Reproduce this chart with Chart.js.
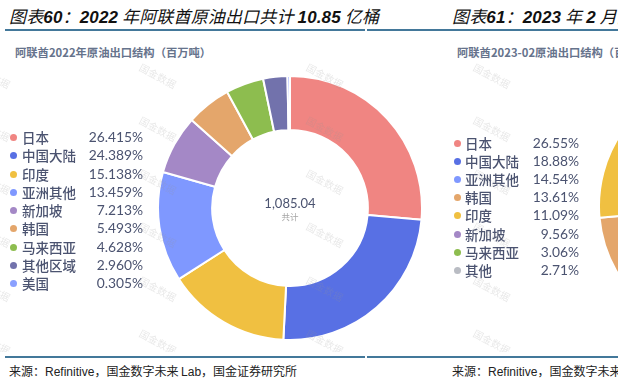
<!DOCTYPE html>
<html><head><meta charset="utf-8">
<script src="https://cdn.jsdelivr.net/npm/chart.js@4"></script>
<style>
html,body{margin:0;padding:0;width:618px;height:386px;overflow:hidden;background:#fff;}
body{position:relative;font-family:"Noto Sans CJK SC",sans-serif;}
.abs{position:absolute;white-space:nowrap;}
.title{font-size:17px;font-style:italic;color:#111;line-height:20px;letter-spacing:0.15px;}
.title b{font-family:"Liberation Sans",Arial,sans-serif;font-weight:bold;}
.sub{font-size:11.3px;color:#66738c;font-weight:600;line-height:14px;}
.src{font-size:12px;color:#222;line-height:16px;}
.src .l{font-family:"Liberation Sans",Arial,sans-serif;}
.rule{position:absolute;height:2px;background:#43789a;}
.row{position:absolute;height:18px;line-height:18px;}
.dot{position:absolute;width:7px;height:7px;border-radius:50%;top:6px;}
.nm{position:absolute;font-size:13.5px;color:#4b5370;font-weight:500;}
.pc{position:absolute;font-family:Lato,sans-serif;font-size:13.8px;color:#4b5370;text-align:right;}
.wm{position:absolute;font-size:10px;color:rgba(150,150,150,0.22);transform:rotate(28deg);white-space:nowrap;pointer-events:none;}
</style></head>
<body>
<script>
// ---- data ----
const categories2022 = ['日本','中国大陆','印度','亚洲其他','新加坡','韩国','马来西亚','其他区域','美国'];
const shares2022 = [26.415,24.389,15.138,13.459,7.213,5.493,4.628,2.960,0.305];
const total2022 = 1085.04;
const categories2023 = ['日本','中国大陆','亚洲其他','韩国','印度','新加坡','马来西亚','其他'];
const shares2023 = [26.55,18.88,14.54,13.61,11.09,9.56,3.06,2.71];
// ---- styles ----
const colorMap = {'日本':'#f08582','中国大陆':'#5870e4','印度':'#f0c041','亚洲其他':'#7f98ff','新加坡':'#a488c6',
 '韩国':'#e4a66b','马来西亚':'#8dbd4f','其他区域':'#7272ac','美国':'#8aa0ff','其他':'#b9bcc3'};
</script>

<div class="abs title" style="left:9px;top:6px;">图表<b>60</b>：<b>2022</b> 年阿联酋原油出口共计 <b>10.85</b> 亿桶</div>
<div class="abs title" style="left:452px;top:6px;">图表<b>61</b>：<b>2023</b> 年 <b>2</b> 月阿联酋原油出口结构</div>
<div class="rule" style="left:5px;top:29px;width:360px;"></div>
<div class="rule" style="left:367px;top:29px;width:251px;"></div>
<div class="abs sub" style="left:15px;top:45px;">阿联酋2022年原油出口结构（百万吨）</div>
<div class="abs sub" style="left:457px;top:45px;">阿联酋2023-02原油出口结构（百万吨）</div>

<div style="position:absolute;left:157px;top:75px;width:266px;height:266px;"><canvas id="c1" width="266" height="266"></canvas></div>
<div style="position:absolute;left:598px;top:74px;width:264px;height:264px;"><canvas id="c2" width="264" height="264"></canvas></div>

<div class="abs" id="ctr1" style="left:240px;top:195px;width:100px;text-align:center;">
 <div id="tot1" style="font-family:Lato,sans-serif;font-size:13px;color:#4b5370;line-height:16px;"></div>
 <div style="font-size:8.5px;color:#a5a5a5;line-height:11px;">共计</div>
</div>

<div id="leg1"></div>
<div id="leg2"></div>

<div class="rule" style="left:5px;top:356px;width:360px;"></div>
<div class="rule" style="left:367px;top:356px;width:251px;"></div>
<div class="abs src" style="left:9px;top:363px;">来源：<span class="l">Refinitive</span>，国金数字未来 <span class="l">Lab</span>，国金证券研究所</div>
<div class="abs src" style="left:452px;top:363px;">来源：<span class="l">Refinitive</span>，国金数字未来 <span class="l">Lab</span>，国金证券研究所</div>

<div id="wms" style="position:absolute;left:0;top:0;width:618px;height:352px;overflow:hidden;"></div>

<script>
function buildLegend(id, cats, vals, dec, x0, nameX, pctRight, y0, step){
  const el = document.getElementById(id);
  cats.forEach((c,i)=>{
    const r = document.createElement('div');
    r.className='row';
    r.style.left='0px'; r.style.top=(y0+i*step-9)+'px'; r.style.width='618px';
    r.innerHTML = `<div class="dot" style="left:${x0-3.5}px;background:${colorMap[c]}"></div>`+
      `<div class="nm" style="left:${nameX}px">${c}</div>`+
      `<div class="pc" style="left:${pctRight-80}px;width:80px">${vals[i].toFixed(dec)}%</div>`;
    el.appendChild(r);
  });
}
buildLegend('leg1', categories2022, shares2022, 3, 13, 22, 143, 137, 18.25);
buildLegend('leg2', categories2023, shares2023, 2, 457, 465, 579, 143, 18.1);
document.getElementById('tot1').textContent = total2022.toLocaleString('en-US',{minimumFractionDigits:2});

function donut(id, cats, vals){
  new Chart(document.getElementById(id), {
    type:'doughnut',
    data:{labels:cats, datasets:[{data:vals, backgroundColor:cats.map(c=>colorMap[c]), borderColor:'#fff', borderWidth:2}]},
    options:{responsive:false, animation:false, cutout:'59%', layout:{padding:0},
      plugins:{legend:{display:false}, tooltip:{enabled:false}}}
  });
}
donut('c1', categories2022, shares2022);
donut('c2', categories2023, shares2023);

const wm = document.getElementById('wms');
[ -8,158,325,492].forEach(x=>{
  [75,128,181,234,288,341].forEach(y=>{
    const d=document.createElement('div'); d.className='wm'; d.textContent='国金数据';
    d.style.left=(x-20)+'px'; d.style.top=(y-7)+'px'; wm.appendChild(d);
  });
});
</script>
</body></html>
